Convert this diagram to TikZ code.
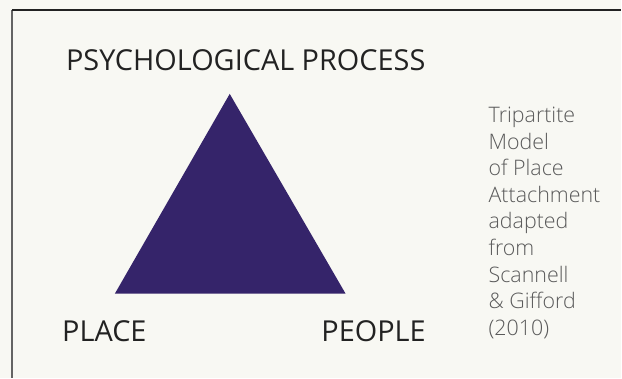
\documentclass[tikz,border=0pt]{standalone}
\usepackage{fontspec}
\setmainfont{Open Sans}
\IfFontExistsTF{Open Sans Light}
  {\newfontfamily\lightfont{Open Sans Light}}
  {\newfontfamily\lightfont{Open Sans}}
\definecolor{paper}{HTML}{F8F8F3}
\definecolor{plum}{HTML}{35246A}
\definecolor{ink}{HTML}{222222}
\definecolor{caption}{HTML}{5A5A5A}
\begin{document}
\begin{tikzpicture}[x=1bp,y=-1bp]
        \fill[paper] (0,0) rectangle (622,378);
        \draw[line width=1.5bp,ink!70] (12,10) -- (12,378);
        \draw[line width=1.5bp,ink] (12,10) -- (622,10);
        \fill[plum] (230,94) -- (115,294) -- (346,294) -- cycle;
        \node[anchor=base,ink,font=\fontsize{29}{34}\selectfont] (process) at (246,71) {PSYCHOLOGICAL PROCESS};
        \node[anchor=base,ink,font=\fontsize{29}{34}\selectfont] (place) at (104.5,342) {PLACE};
        \node[anchor=base,ink,font=\fontsize{29}{34}\selectfont] (people) at (374,342) {PEOPLE};
        \node[anchor=north west,inner sep=0pt,align=left,caption,font=\lightfont\fontsize{21.5}{26.7}\selectfont] (model) at (489,107)
            {Tripartite\\Model\\of Place\\Attachment\\adapted\\from\\Scannell\\\& Gifford\\(2010)};
    \end{tikzpicture}
\end{document}
